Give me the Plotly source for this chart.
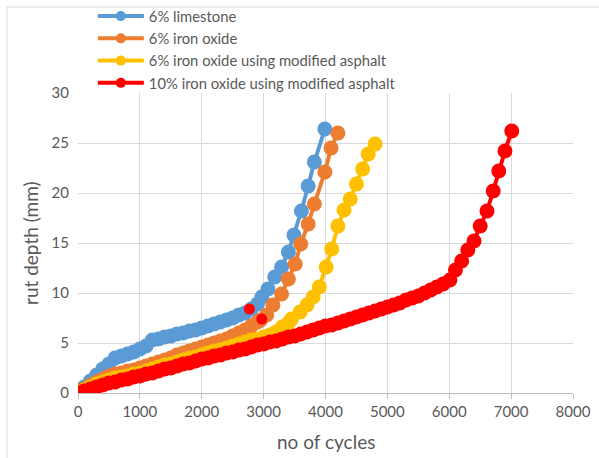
import plotly.graph_objects as go

# ---- data ----
limestone_x = [0, 100, 200, 300, 400, 500, 600, 700, 800, 900, 1000, 1100, 1200, 1300, 1400,
               1500, 1600, 1700, 1800, 1900, 2000, 2100, 2200, 2300, 2400, 2500, 2600, 2700,
               2800, 2900, 2970, 3070, 3180, 3290, 3400, 3490, 3610, 3720, 3820, 3990]
limestone_y = [0, 0.6, 1.2, 1.8, 2.4, 2.9, 3.5, 3.7, 3.9, 4.1, 4.4, 4.7, 5.3, 5.4, 5.6,
               5.7, 5.9, 6.0, 6.2, 6.3, 6.5, 6.7, 6.9, 7.1, 7.3, 7.5, 7.8, 8.0,
               8.4, 8.9, 9.6, 10.4, 11.6, 12.6, 14.1, 15.8, 18.2, 20.7, 23.1, 26.4]

iron_x = [0, 100, 200, 300, 400, 500, 600, 700, 800, 900, 1000, 1100, 1200, 1300, 1400,
          1500, 1600, 1700, 1800, 1900, 2000, 2100, 2200, 2300, 2400, 2500, 2600, 2700,
          2800, 2900, 2950, 3050, 3150, 3290, 3400, 3510, 3600, 3720, 3820, 3990, 4090, 4200]
iron_y = [0, 0.4, 0.8, 1.1, 1.4, 1.7, 1.9, 2.0, 2.2, 2.3, 2.5, 2.7, 2.9, 3.1, 3.3,
          3.5, 3.8, 4.0, 4.2, 4.4, 4.6, 4.8, 5.0, 5.2, 5.4, 5.7, 6.0, 6.3,
          6.7, 7.1, 7.3, 7.8, 8.8, 9.9, 11.4, 12.9, 14.9, 16.9, 18.9, 22.1, 24.5, 26.0]

iron_mod_x = [0, 100, 200, 300, 400, 500, 600, 700, 800, 900, 1000, 1100, 1200, 1300, 1400,
              1500, 1600, 1700, 1800, 1900, 2000, 2100, 2200, 2300, 2400, 2500, 2600, 2700,
              2800, 2900, 3000, 3100, 3200, 3300, 3400, 3450, 3590, 3700, 3800, 3900, 4010,
              4100, 4200, 4300, 4400, 4500, 4600, 4690, 4800]
iron_mod_y = [0, 0.3, 0.6, 0.9, 1.1, 1.3, 1.5, 1.6, 1.7, 1.9, 2.0, 2.2, 2.4, 2.6, 2.8,
              2.9, 3.1, 3.3, 3.5, 3.6, 3.8, 4.0, 4.2, 4.3, 4.5, 4.7, 4.9, 5.1,
              5.3, 5.4, 5.6, 5.8, 6.1, 6.6, 7.0, 7.4, 8.1, 8.8, 9.6, 10.6, 12.6,
              14.4, 16.7, 18.3, 19.4, 20.9, 22.4, 23.9, 24.9]

iron10_x = [0, 100, 200, 300, 400, 500, 600, 700, 800, 900, 1000, 1100, 1200, 1300, 1400,
            1500, 1600, 1700, 1800, 1900, 2000, 2100, 2200, 2300, 2400, 2500, 2600, 2700,
            2800, 2900, 3000, 3100, 3200, 3300, 3400, 3500, 3600, 3700, 3800, 3900, 4000,
            4100, 4200, 4300, 4400, 4500, 4600, 4700, 4800, 4900, 5000, 5100, 5200, 5300,
            5400, 5500, 5600, 5700, 5800, 5900, 6010, 6100, 6200, 6300, 6400, 6500, 6610,
            6710, 6800, 6900, 7010]
iron10_y = [0, 0.2, 0.4, 0.6, 0.8, 1.0, 1.1, 1.3, 1.4, 1.6, 1.7, 1.9, 2.0, 2.2, 2.4,
            2.5, 2.7, 2.9, 3.0, 3.2, 3.4, 3.5, 3.7, 3.8, 4.0, 4.1, 4.3, 4.4,
            4.6, 4.8, 4.9, 5.1, 5.2, 5.4, 5.6, 5.7, 5.9, 6.1, 6.3, 6.5, 6.7,
            6.8, 7.0, 7.2, 7.4, 7.6, 7.8, 8.0, 8.2, 8.4, 8.6, 8.8, 9.0, 9.3,
            9.5, 9.7, 10.0, 10.3, 10.6, 10.9, 11.3, 12.3, 13.2, 14.3, 15.2, 16.7, 18.2,
            20.2, 22.2, 24.2, 26.2]

# two stray red points (no connecting line in the reference)
stray_x = [2770, 2970]
stray_y = [8.4, 7.4]

names = ["6% limestone", "6% iron oxide", "6% iron oxide using modified asphalt",
         "10% iron oxide using modified asphalt"]
colors = ["#5B9BD5", "#ED7D31", "#FFC000", "#FF0000"]
series = [(limestone_x, limestone_y), (iron_x, iron_y), (iron_mod_x, iron_mod_y),
          (iron10_x, iron10_y)]

x_ticks = [0, 1000, 2000, 3000, 4000, 5000, 6000, 7000, 8000]
y_ticks = [0, 5, 10, 15, 20, 25, 30]
x_title = "no of cycles"
y_title = "rut depth (mm)"

FONT = "Lato, Carlito, Calibri, sans-serif"
TXT = "#595959"
fig = go.Figure()

for (xs, ys), name, col in zip(series, names, colors):
    fig.add_trace(go.Scatter(x=xs, y=ys, mode="lines+markers", name=name,
                             line=dict(color=col, width=4),
                             marker=dict(color=col, size=15),
                             showlegend=False))

fig.add_trace(go.Scatter(x=stray_x, y=stray_y, mode="markers",
                         marker=dict(color="#FF0000", size=11), showlegend=False))

# legend-only entries (smaller symbols, as in the reference legend)
for name, col in zip(names, colors):
    fig.add_trace(go.Scatter(x=[None], y=[None], mode="lines+markers", name=name,
                             line=dict(color=col, width=4),
                             marker=dict(color=col, size=10)))

grid = "#d9d9d9"
fig.update_layout(
    width=599, height=458,
    margin=dict(l=78, r=26, t=93, b=65, autoexpand=False),
    paper_bgcolor="white", plot_bgcolor="white",
    font=dict(family=FONT, color=TXT, size=15),
    legend=dict(xref="container", yref="container", x=0.155, y=1.0,
                xanchor="left", yanchor="top", bgcolor="rgba(0,0,0,0)",
                font=dict(size=14.8, color=TXT), itemwidth=46,
                tracegroupgap=0),
    xaxis=dict(range=[0, 8000], tickvals=x_ticks, showgrid=True, gridcolor=grid,
               gridwidth=1, zeroline=False, showline=True, linecolor="#bfbfbf",
               ticks="outside", ticklen=5, tickcolor="#bfbfbf", tickangle=0,
               tickfont=dict(size=15, color=TXT)),
    yaxis=dict(range=[0, 30], tickvals=y_ticks, showgrid=True, gridcolor=grid,
               gridwidth=1, zeroline=False, showline=False, ticks="",
               ticklabelstandoff=8,
               tickfont=dict(size=15, color=TXT)),
    annotations=[
        dict(text=x_title, xref="paper", yref="paper", x=0.5, y=-0.16,
             xanchor="center", yanchor="middle", showarrow=False,
             font=dict(size=19, color=TXT)),
        dict(text=y_title, xref="paper", yref="paper", x=-0.097, y=0.5,
             xanchor="center", yanchor="middle", showarrow=False, textangle=-90,
             font=dict(size=19, color=TXT)),
    ],
    shapes=[dict(type="rect", xref="paper", yref="paper",
                 x0=-0.1434, x1=1.08, y0=-0.3, y1=1.2867,
                 line=dict(color="#d9d9d9", width=1), layer="below")],
)

fig.write_html("out.html")
